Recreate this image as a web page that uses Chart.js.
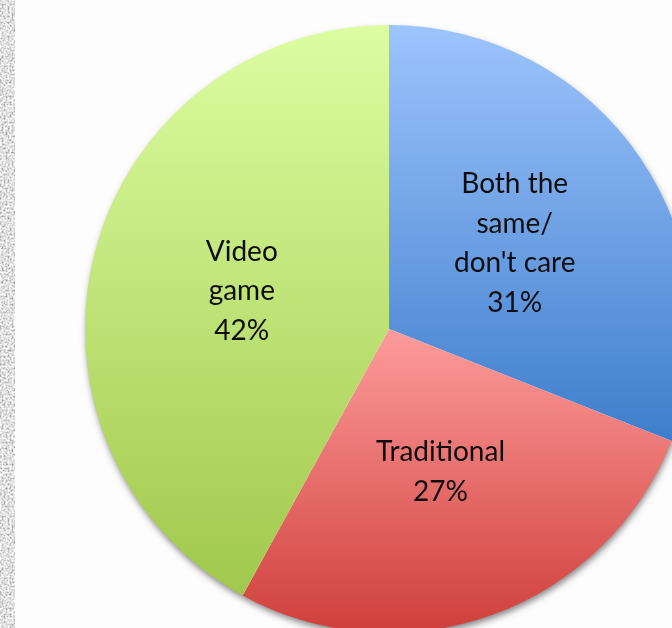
<!DOCTYPE html>
<html>
<head>
<meta charset="utf-8">
<script src="https://cdn.jsdelivr.net/npm/chart.js@4/dist/chart.umd.min.js"></script>
<style>
  html, body { margin: 0; padding: 0; width: 672px; height: 628px; overflow: hidden; background: #fdfdfd; }
  #strip { position: absolute; left: 0; top: 0; width: 15px; height: 628px; background: #bcbcbc; }
  #strip svg { display: block; }
  #wrap { position: absolute; left: 65px; top: 5px; width: 648px; height: 648px; }
</style>
</head>
<body>
<div id="strip">
  <!-- grainy grey edge -->
  <svg width="15" height="628">
    <filter id="grain" x="0" y="0" width="100%" height="100%">
      <feTurbulence type="fractalNoise" baseFrequency="0.5" numOctaves="2" seed="7"/>
      <feColorMatrix type="saturate" values="0"/>
      <feComponentTransfer>
        <feFuncR type="linear" slope="1.9" intercept="-0.2"/>
        <feFuncG type="linear" slope="1.9" intercept="-0.2"/>
        <feFuncB type="linear" slope="1.9" intercept="-0.2"/>
        <feFuncA type="linear" slope="0" intercept="1"/>
      </feComponentTransfer>
    </filter>
    <rect width="15" height="628" filter="url(#grain)"/>
  </svg>
</div>
<div id="wrap"><canvas id="pie"></canvas></div>
<script>
// survey answers, clockwise from 12 o'clock
var categories = [["Both the", "same/", "don't care"], ["Traditional"], ["Video", "game"]];
var values = [31, 27, 42];
// top / bottom colour of each slice's vertical gradient
var topColors = ['#9dc4fd', '#fd9c9b', '#dcfda1'];
var bottomColors = ['#3e7ecc', '#cf3f3b', '#a1c84c'];

var total = values.reduce(function(a, b) { return a + b; }, 0);

// vertical extent of slice i, so each slice gets its own light-to-dark fade
function sliceBounds(i, cy, r) {
    var before = 0;
    for (var k = 0; k < i; k++) before += values[k];
    var a0 = before / total * 2 * Math.PI;
    var a1 = (before + values[i]) / total * 2 * Math.PI;
    var ys = [cy, cy - r * Math.cos(a0), cy - r * Math.cos(a1)];
    if (a0 <= 0 || a1 >= 2 * Math.PI) ys.push(cy - r);
    if (a0 <= Math.PI && a1 >= Math.PI) ys.push(cy + r);
    return [Math.min.apply(null, ys), Math.max.apply(null, ys)];
}

function sliceFill(context) {
    var chart = context.chart;
    var area = chart.chartArea;
    var i = context.dataIndex;
    if (!area) return bottomColors[i];
    var cy = (area.top + area.bottom) / 2;
    var r = Math.min(area.right - area.left, area.bottom - area.top) / 2;
    var b = sliceBounds(i, cy, r);
    var g = chart.ctx.createLinearGradient(0, b[0], 0, b[1]);
    g.addColorStop(0, topColors[i]);
    g.addColorStop(1, bottomColors[i]);
    return g;
}

var pieShadow = {
    id: 'pieShadow',
    beforeDatasetsDraw: function(chart) {
        var arc = chart.getDatasetMeta(0).data[0];
        if (!arc) return;
        var ctx = chart.ctx;
        ctx.save();
        ctx.shadowColor = 'rgba(0,0,0,0.5)';
        ctx.shadowBlur = 7;
        ctx.shadowOffsetX = 1;
        ctx.shadowOffsetY = 4;
        ctx.fillStyle = '#ffffff';
        ctx.beginPath();
        ctx.arc(arc.x, arc.y, arc.outerRadius - 1, 0, 2 * Math.PI);
        ctx.fill();
        ctx.restore();
    }
};

var sliceLabels = {
    id: 'sliceLabels',
    afterDatasetsDraw: function(chart) {
        var ctx = chart.ctx;
        var meta = chart.getDatasetMeta(0);
        ctx.save();
        ctx.font = '28px Lato';
        ctx.fillStyle = '#0d0d0d';
        ctx.textAlign = 'center';
        ctx.textBaseline = 'middle';
        var lineH = 39.5;
        meta.data.forEach(function(arc, i) {
            var mid = (arc.startAngle + arc.endAngle) / 2;
            var x = arc.x + Math.cos(mid) * arc.outerRadius * 0.5;
            var y = arc.y + Math.sin(mid) * arc.outerRadius * 0.5;
            var lines = categories[i].concat([values[i] + '%']);
            var y0 = y - (lines.length - 1) * lineH / 2;
            lines.forEach(function(t, j) {
                ctx.fillText(t, x, y0 + j * lineH);
            });
        });
        ctx.restore();
    }
};

new Chart(document.getElementById('pie'), {
    type: 'pie',
    data: {
        labels: categories.map(function(c) { return c.join(' '); }),
        datasets: [{
            data: values,
            backgroundColor: sliceFill,
            borderWidth: 0
        }]
    },
    options: {
        responsive: true,
        maintainAspectRatio: false,
        animation: false,
        layout: { padding: 20 },
        plugins: {
            legend: { display: false },
            tooltip: { enabled: false }
        }
    },
    plugins: [pieShadow, sliceLabels]
});
</script>
</body>
</html>
